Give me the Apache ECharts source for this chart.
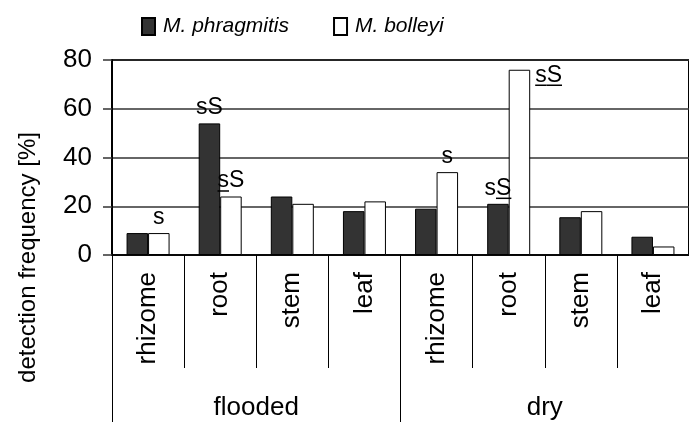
<!DOCTYPE html>
<html>
<head>
<meta charset="utf-8">
<script src="https://cdn.jsdelivr.net/npm/echarts@6/dist/echarts.min.js"></script>
<style>
html,body{margin:0;padding:0;background:#fff;}
#c{width:689px;height:423px;}
</style>
</head>
<body>
<div id="c"></div>
<script>
// ---- data ----
const categories = ['rhizome', 'root', 'stem', 'leaf', 'rhizome', 'root', 'stem', 'leaf'];
const groups = ['flooded', 'dry'];
const seriesNames = ['M. phragmitis', 'M. bolleyi'];
const phragmitis = [9, 54, 24, 18, 19, 21, 15.5, 7.5];
const bolleyi = [9, 24, 21, 22, 34, 76, 18, 3.5];
const yTicks = [0, 20, 40, 60, 80];
// annotations: [category index, series index, text, underlined character indexes, placement]
const annotations = [
  [0, 1, 's', [], 'top'],
  [1, 0, 'sS', [], 'top'],
  [1, 1, 'sS', [0], 'top'],
  [4, 1, 's', [], 'top'],
  [5, 0, 'sS', [1], 'top'],
  [5, 1, 'sS', [0, 1], 'right']
];

const FONT = '"Liberation Sans", Arial, Helvetica, sans-serif';
const BAR_W = 21.5;
const seriesData = [phragmitis, bolleyi];

const measureCtx = document.createElement('canvas').getContext('2d');
function textW(t, size) {
  measureCtx.font = size + 'px ' + FONT;
  return measureCtx.measureText(t).width;
}

const chart = echarts.init(document.getElementById('c'), null, {renderer: 'canvas'});

const annSize = 23;
const option = {
  animation: false,
  backgroundColor: '#fff',
  textStyle: {fontFamily: FONT, color: '#000'},
  legend: {
    data: seriesNames,
    top: 16,
    left: 141,
    padding: 0,
    icon: 'rect',
    itemWidth: 13,
    itemHeight: 17,
    itemGap: 44,
    textStyle: {fontSize: 21, fontStyle: 'italic', color: '#000', fontFamily: FONT, padding: [0, 0, 0, 3]}
  },
  grid: {
    left: 112, top: 60, right: -9, bottom: 168, containLabel: false,
    show: true, borderColor: '#000', borderWidth: 2, backgroundColor: 'transparent'
  },
  xAxis: [
    {
      type: 'category',
      data: categories,
      axisLine: {show: true, lineStyle: {color: '#000', width: 1.5}},
      axisTick: {show: true, interval: 0, length: 113, lineStyle: {color: '#000', width: 1}},
      axisLabel: {interval: 0, rotate: 90, margin: 17, fontSize: 26, color: '#000', fontFamily: FONT},
      splitLine: {show: false}
    },
    {
      type: 'category',
      data: groups,
      position: 'bottom',
      axisLine: {show: false},
      axisTick: {show: true, interval: 0, length: 167, lineStyle: {color: '#000', width: 1}},
      axisLabel: {interval: 0, margin: 140, fontSize: 26, color: '#000', fontFamily: FONT},
      splitLine: {show: false}
    }
  ],
  yAxis: {
    type: 'value',
    min: yTicks[0],
    max: yTicks[yTicks.length - 1],
    interval: yTicks[1] - yTicks[0],
    name: 'detection frequency [%]',
    nameLocation: 'middle',
    nameGap: 72,
    nameTextStyle: {fontSize: 24, color: '#000', fontFamily: FONT, padding: [0, 200, 0, 0]},
    axisLine: {show: true, lineStyle: {color: '#000', width: 2}},
    axisTick: {show: true, length: 9, lineStyle: {color: '#333', width: 1.5}},
    axisLabel: {fontSize: 26, color: '#000', margin: 20, fontFamily: FONT},
    splitLine: {show: true, lineStyle: {color: '#333', width: 1.5}}
  },
  series: [
    {
      name: seriesNames[0],
      type: 'bar',
      data: phragmitis,
      barWidth: BAR_W,
      barGap: '0%',
      itemStyle: {color: '#333333', borderColor: '#000', borderWidth: 1}
    },
    {
      name: seriesNames[1],
      type: 'bar',
      data: bolleyi,
      barWidth: BAR_W,
      barGap: '0%',
      itemStyle: {color: '#ffffff', borderColor: '#000', borderWidth: 1}
    },
    {
      name: 'annotations',
      type: 'custom',
      data: annotations.map(a => [a[0], seriesData[a[1]][a[0]]]),
      z: 10,
      silent: true,
      renderItem: function (params, api) {
        const a = annotations[params.dataIndex];
        const pt = api.coord([api.value(0), api.value(1)]);
        const sIdx = a[1];
        const barCx = pt[0] + (sIdx === 0 ? -BAR_W / 2 : BAR_W / 2);
        const text = a[2];
        const w = textW(text, annSize);
        let x0, yb;
        if (a[4] === 'right') {
          x0 = barCx + BAR_W / 2 + 5;
          yb = pt[1] + 17;
        } else {
          x0 = barCx - w / 2;
          yb = pt[1] - 4;
        }
        const children = [{
          type: 'text',
          style: {
            text: text,
            x: x0,
            y: yb,
            align: 'left',
            verticalAlign: 'bottom',
            font: annSize + 'px ' + FONT,
            fill: '#000'
          }
        }];
        a[3].forEach(ci => {
          const px = textW(text.slice(0, ci), annSize);
          const cw = textW(text[ci], annSize);
          children.push({
            type: 'line',
            shape: {x1: x0 + px, y1: yb - 1.5, x2: x0 + px + cw, y2: yb - 1.5},
            style: {stroke: '#000', lineWidth: 1.5}
          });
        });
        return {type: 'group', children: children};
      }
    }
  ]
};
chart.setOption(option);
</script>
</body>
</html>
